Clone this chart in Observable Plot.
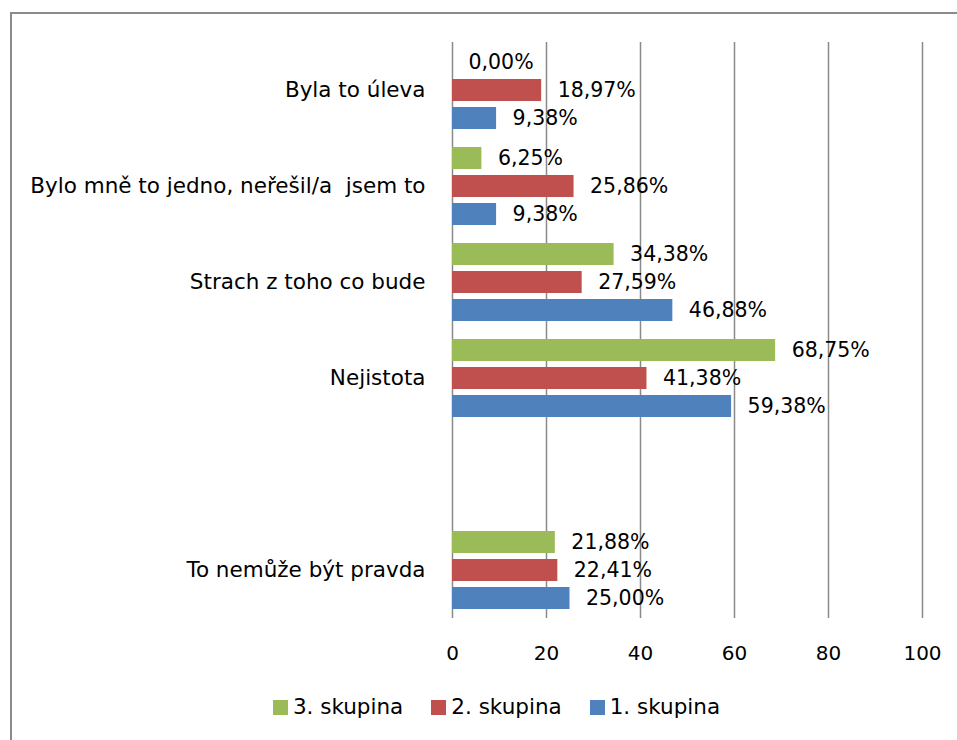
<!DOCTYPE html>
<html>
<head>
<meta charset="utf-8">
<script src="https://cdn.jsdelivr.net/npm/d3@7"></script>
<script src="https://cdn.jsdelivr.net/npm/@observablehq/plot@0.6"></script>
<style>
  html, body { margin: 0; padding: 0; background: #fff; }
  body { width: 957px; height: 740px; overflow: hidden; position: relative; font-family: "DejaVu Sans", sans-serif; }
  #frame { position: absolute; left: 10px; top: 12px; width: 945px; height: 740px;
           border-left: 2px solid #8a8a8a; border-top: 2px solid #8a8a8a; }
  #frame svg text { white-space: pre; }
  #legend { display: flex; justify-content: center; padding-top: 26px; font-size: 21.5px; line-height: 22px; color: #000; padding-left: 52px; }
  #legend .item { display: flex; align-items: center; margin-right: 28px; }
  #legend .sw { width: 15px; height: 15px; margin-right: 5px; display: inline-block; }
</style>
</head>
<body>
<div id="frame"><div id="chart"></div><div id="legend"></div></div>
<script>
// Categories (top to bottom); "" is the empty slot in the original chart
const categories = ["Byla to úleva", "Bylo mně to jedno, neřešil/a  jsem to", "Strach z toho co bude", "Nejistota", "", "To nemůže být pravda"];
const seriesNames = ["3. skupina", "2. skupina", "1. skupina"];
const seriesColors = ["#9BBB59", "#C0504D", "#4F81BD"];
const skupina3 = [0.00, 6.25, 34.38, 68.75, null, 21.88];
const skupina2 = [18.97, 25.86, 27.59, 41.38, null, 22.41];
const skupina1 = [9.38, 9.38, 46.88, 59.38, null, 25.00];
const xTicks = [0, 20, 40, 60, 80, 100];

const seriesValues = [skupina3, skupina2, skupina1];
const rows = [];
categories.forEach((c, i) => {
  seriesNames.forEach((s, j) => {
    const v = seriesValues[j][i];
    if (v != null) rows.push({category: c, series: s, value: v});
  });
});
const gridRows = [];
categories.forEach(c => xTicks.forEach(t => gridRows.push({category: c, x: t})));

const fmt = v => v.toFixed(2).replace(".", ",") + "%";

const chart = Plot.plot({
  width: 945,
  height: 656,
  marginLeft: 440,
  marginRight: 35,
  marginTop: 26,
  marginBottom: 50,
  style: {fontFamily: "'DejaVu Sans', sans-serif", fontSize: "20px", color: "#000", background: "#fff"},
  x: {domain: [0, 100], label: null},
  y: {domain: seriesNames, paddingInner: 0.2, paddingOuter: 0.3, axis: null},
  fy: {domain: categories, padding: 0, label: null},
  color: {domain: seriesNames, range: seriesColors},
  marks: [
    Plot.ruleX(gridRows, {x: "x", fy: "category", stroke: "#8a8a8a", strokeWidth: 1.5}),
    Plot.barX(rows, {x: "value", y: "series", fy: "category", fill: "series"}),
    Plot.text(rows, {x: "value", y: "series", fy: "category", text: d => fmt(d.value), dx: 16, textAnchor: "start", fontSize: 20.5, fill: "#000"}),
    Plot.axisX({ticks: xTicks, tickSize: 0, tickPadding: 27, fontSize: 20, label: null, tickFormat: d => String(d)}),
    Plot.axisFy({anchor: "left", tickSize: 0, tickPadding: 27, fontSize: 21.5, label: null})
  ]
});
document.getElementById("chart").appendChild(chart);

const legend = document.getElementById("legend");
seriesNames.forEach((s, j) => {
  const item = document.createElement("div");
  item.className = "item";
  const sw = document.createElement("span");
  sw.className = "sw";
  sw.style.background = seriesColors[j];
  const label = document.createElement("span");
  label.textContent = s;
  item.appendChild(sw);
  item.appendChild(label);
  legend.appendChild(item);
});
</script>
</body>
</html>
